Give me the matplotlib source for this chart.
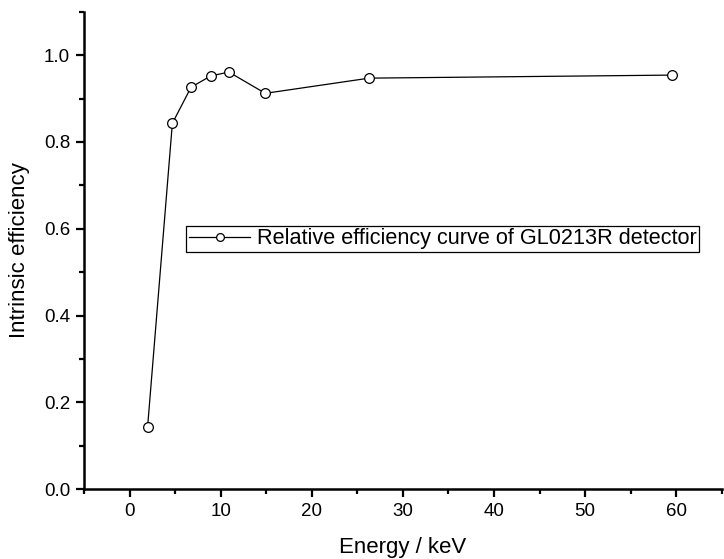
import matplotlib.pyplot as plt
from matplotlib.ticker import MultipleLocator

plt.rcParams['font.family'] = ['Liberation Sans', 'DejaVu Sans']

energy = [1.98, 4.7, 6.75, 8.9, 10.9, 14.9, 26.3, 59.5]
efficiency = [0.143, 0.843, 0.926, 0.952, 0.961, 0.912, 0.947, 0.954]
label = "Relative efficiency curve of GL0213R detector"

fig = plt.figure(figsize=(7.24, 5.59), dpi=100)
ax = fig.add_axes([0.116, 0.125, 0.881, 0.854])

ax.plot(energy, efficiency, color='black', lw=0.9, marker='o', ms=7,
        mfc='white', mec='black', mew=0.9, label=label)

ax.set_xlim(-5, 65)
ax.set_ylim(0, 1.1)
ax.xaxis.set_major_locator(MultipleLocator(10))
ax.xaxis.set_minor_locator(MultipleLocator(5))
ax.yaxis.set_major_locator(MultipleLocator(0.2))
ax.yaxis.set_minor_locator(MultipleLocator(0.1))
ax.yaxis.set_major_formatter(plt.FormatStrFormatter('%.1f'))

for s in ['top', 'right']:
    ax.spines[s].set_visible(False)
for s in ['left', 'bottom']:
    ax.spines[s].set_linewidth(1.8)

ax.tick_params(which='major', direction='out', length=6, width=1.6, labelsize=13.5, pad=4)
ax.tick_params(which='minor', direction='out', length=3.5, width=1.6)

ax.set_xlabel("Energy / keV", fontsize=16, labelpad=12)
ax.set_ylabel("Intrinsic efficiency", fontsize=16, labelpad=10)

leg = ax.legend(loc='upper left', bbox_to_anchor=(0.16, 0.552), borderaxespad=0,
                fontsize=15.6, fancybox=False, edgecolor='black', framealpha=1,
                handlelength=2.85, handletextpad=0.3, borderpad=0.12, markerscale=0.8)
leg.get_frame().set_linewidth(0.9)

fig.savefig('out.png', dpi=100)
